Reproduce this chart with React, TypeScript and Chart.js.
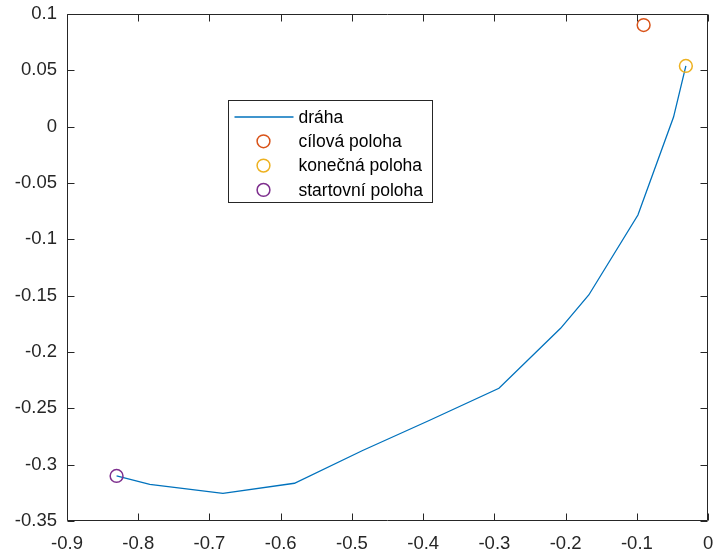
import { useEffect, useRef } from "react";
import { Chart, registerables } from "chart.js";

Chart.register(...registerables);

// Trajectory of the end effector
const pathX = [-0.8304, -0.7838, -0.6811, -0.5807, -0.485, -0.3916, -0.2936, -0.2071, -0.1675, -0.0985, -0.0485, -0.0312];
const pathY = [-0.31, -0.3174, -0.3254, -0.3165, -0.2874, -0.2608, -0.2322, -0.179, -0.1494, -0.0784, 0.0085, 0.0539];

// Goal position
const targetX = [-0.0905];
const targetY = [0.0902];

// Axis ticks
const xTickValues = [-0.9, -0.8, -0.7, -0.6, -0.5, -0.4, -0.3, -0.2, -0.1, 0];
const xTickLabels = ["-0.9", "-0.8", "-0.7", "-0.6", "-0.5", "-0.4", "-0.3", "-0.2", "-0.1", "0"];
const yTickValues = [-0.35, -0.3, -0.25, -0.2, -0.15, -0.1, -0.05, 0, 0.05, 0.1];
const yTickLabels = ["-0.35", "-0.3", "-0.25", "-0.2", "-0.15", "-0.1", "-0.05", "0", "0.05", "0.1"];

const legendLabels = ["dráha", "cílová poloha", "konečná poloha", "startovní poloha"];

const FONT = '"Liberation Sans", Arial, Helvetica, sans-serif';
const FONT_SIZE = 17.5;
const TICK_FONT_SIZE = 18.5;
const AXIS_COLOR = "#262626";
const COLORS = ["#0072BD", "#D95319", "#EDB120", "#7E2F8E"];
const TICK_LEN = 7;

const toPoints = (xs: number[], ys: number[]) => xs.map((x, i) => ({ x, y: ys[i] }));

const clearScalePadding = (scale: any) => {
  scale.paddingTop = 0;
  scale.paddingBottom = 0;
  scale.paddingLeft = 0;
  scale.paddingRight = 0;
};

const axesPlugin = {
  id: "boxAxes",
  afterDatasetsDraw(chart: any) {
    const { ctx, chartArea, scales } = chart;
    const { left, right, top, bottom } = chartArea;
    const xs = scales.x;
    const ys = scales.y;
    ctx.save();
    ctx.strokeStyle = AXIS_COLOR;
    ctx.lineWidth = 1;
    ctx.beginPath();
    const l = Math.round(left) + 0.5;
    const r = Math.round(right) - 0.5;
    const t = Math.round(top) + 0.5;
    const b = Math.round(bottom) - 0.5;
    ctx.rect(l, t, r - l, b - t);
    xTickValues.forEach((v) => {
      const px = Math.round(xs.getPixelForValue(v)) + 0.5;
      ctx.moveTo(px, b);
      ctx.lineTo(px, b - TICK_LEN);
      ctx.moveTo(px, t);
      ctx.lineTo(px, t + TICK_LEN);
    });
    yTickValues.forEach((v) => {
      const py = Math.round(ys.getPixelForValue(v)) + 0.5;
      ctx.moveTo(l, py);
      ctx.lineTo(l + TICK_LEN, py);
      ctx.moveTo(r, py);
      ctx.lineTo(r - TICK_LEN, py);
    });
    ctx.stroke();
    ctx.restore();
  },
};

const legendPlugin = {
  id: "insetLegend",
  afterDraw(chart: any) {
    const { ctx, chartArea } = chart;
    const bx = Math.round(chartArea.left + 161) + 0.5;
    const by = Math.round(chartArea.top + 86) + 0.5;
    const bw = 204;
    const bh = 102;
    ctx.save();
    ctx.fillStyle = "#ffffff";
    ctx.fillRect(bx, by, bw, bh);
    ctx.strokeStyle = AXIS_COLOR;
    ctx.lineWidth = 1;
    ctx.strokeRect(bx, by, bw, bh);
    ctx.font = `${FONT_SIZE}px ${FONT}`;
    ctx.textBaseline = "middle";
    ctx.textAlign = "left";
    legendLabels.forEach((label, i) => {
      const cy = by + 16.5 + i * 24.3;
      ctx.strokeStyle = COLORS[i];
      if (i === 0) {
        ctx.lineWidth = 1.3;
        ctx.beginPath();
        ctx.moveTo(bx + 6, cy);
        ctx.lineTo(bx + 65, cy);
        ctx.stroke();
      } else {
        ctx.lineWidth = 1.5;
        ctx.beginPath();
        ctx.arc(bx + 35, cy, 6.4, 0, Math.PI * 2);
        ctx.stroke();
      }
      ctx.fillStyle = "#000000";
      ctx.fillText(label, bx + 70, cy + 1);
    });
    ctx.restore();
  },
};

export default function App() {
  const canvasRef = useRef<HTMLCanvasElement | null>(null);

  useEffect(() => {
    if (!canvasRef.current) return;
    const last = pathX.length - 1;
    const markerStyle = {
      showLine: false,
      pointStyle: "circle",
      pointRadius: 6.4,
      pointHoverRadius: 6.4,
      pointBorderWidth: 1.5,
      pointBackgroundColor: "rgba(0,0,0,0)",
    };
    const chart = new Chart(canvasRef.current, {
      type: "scatter",
      data: {
        datasets: [
          {
            label: legendLabels[0],
            data: toPoints(pathX, pathY),
            showLine: true,
            borderColor: COLORS[0],
            borderWidth: 1.3,
            pointRadius: 0,
            pointHoverRadius: 0,
            order: 4,
          },
          {
            label: legendLabels[1],
            data: toPoints(targetX, targetY),
            borderColor: COLORS[1],
            pointBorderColor: COLORS[1],
            ...markerStyle,
            order: 3,
          },
          {
            label: legendLabels[2],
            data: [{ x: pathX[last], y: pathY[last] }],
            borderColor: COLORS[2],
            pointBorderColor: COLORS[2],
            ...markerStyle,
            order: 2,
          },
          {
            label: legendLabels[3],
            data: [{ x: pathX[0], y: pathY[0] }],
            borderColor: COLORS[3],
            pointBorderColor: COLORS[3],
            ...markerStyle,
            order: 1,
          },
        ],
      } as any,
      options: {
        responsive: false,
        animation: false,
        devicePixelRatio: 1,
        layout: { padding: { top: 14, right: 6, left: 0, bottom: 0 } },
        plugins: {
          legend: { display: false },
          tooltip: { enabled: false },
        },
        scales: {
          x: {
            type: "linear",
            min: -0.9,
            max: 0,
            grid: { display: false, drawTicks: false },
            border: { display: false },
            afterBuildTicks: (scale: any) => {
              scale.ticks = xTickValues.map((value) => ({ value }));
            },
            afterFit: (scale: any) => {
              scale.height = 36;
              clearScalePadding(scale);
            },
            ticks: {
              padding: 12,
              color: AXIS_COLOR,
              font: { family: FONT, size: TICK_FONT_SIZE },
              maxRotation: 0,
              autoSkip: false,
              callback: (_v: any, i: number) => xTickLabels[i],
            },
          },
          y: {
            type: "linear",
            min: -0.35,
            max: 0.1,
            grid: { display: false, drawTicks: false },
            border: { display: false },
            afterBuildTicks: (scale: any) => {
              scale.ticks = yTickValues.map((value) => ({ value }));
            },
            afterFit: (scale: any) => {
              scale.width = 67;
              clearScalePadding(scale);
            },
            ticks: {
              padding: 10,
              color: AXIS_COLOR,
              font: { family: FONT, size: TICK_FONT_SIZE },
              autoSkip: false,
              callback: (_v: any, i: number) => yTickLabels[i],
            },
          },
        },
      } as any,
      plugins: [axesPlugin, legendPlugin],
    });
    return () => chart.destroy();
  }, []);

  return (
    <div style={{ position: "fixed", left: 0, top: 0, width: 716, height: 557, background: "#ffffff" }}>
      <canvas ref={canvasRef} width={716} height={557} style={{ display: "block" }} />
    </div>
  );
}
